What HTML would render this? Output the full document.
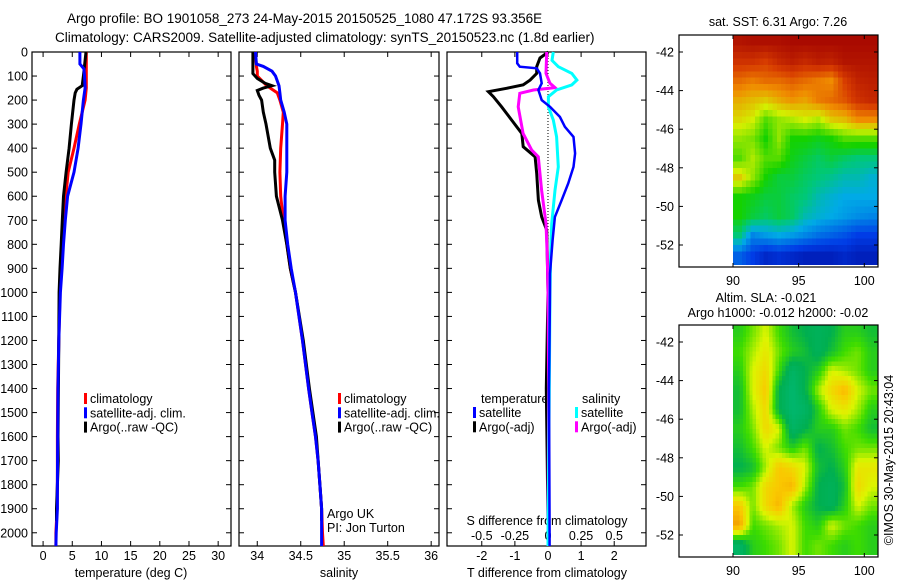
<!DOCTYPE html>
<html><head><meta charset="utf-8"><style>
html,body{margin:0;padding:0;background:#fff;}
svg{display:block;font-family:"Liberation Sans",sans-serif;}
text{fill:#000;}
</style></head><body>
<svg id="c" width="900" height="580" viewBox="0 0 900 580" xmlns="http://www.w3.org/2000/svg">
<text x="67" y="23" font-size="13.5">Argo profile: BO 1901058_273 24-May-2015 20150525_1080 47.172S 93.356E</text>
<text x="55" y="42" font-size="13.5">Climatology: CARS2009. Satellite-adjusted climatology: synTS_20150523.nc (1.8d earlier)</text>
<g id="layer"></g>
</svg>
<script>
// ---------- data ----------
const tDepth=[0,50,70,100,150,200,300,400,500,600,700,800,900,1000,1200,1400,1600,1800,1900,2000,2055];
const tClim=[7.4,7.4,7.4,7.4,7.4,7.2,6.2,5.3,4.3,3.9,3.65,3.4,3.1,2.9,2.7,2.5,2.45,2.45,2.4,2.2,2.2];
const tSat=[6.3,6.3,7.0,7.1,7.2,6.9,6.5,6.0,5.3,4.2,3.8,3.5,3.25,2.97,2.7,2.55,2.5,2.45,2.45,2.25,2.2];
const tArgoDepth=[0,100,140,155,170,200,300,400,500,600,700,800,900,1000,1300,1600,1700,1900,1950];
const tArgo=[7.35,6.9,6.7,5.8,5.5,5.3,4.85,4.45,3.95,3.5,3.3,3.1,2.9,2.75,2.65,2.55,2.6,2.3,2.3];
const sDepth=[0,50,60,80,100,140,170,200,250,300,400,500,600,700,800,900,1000,1200,1400,1500,1600,1700,1800,1900,2000,2055];
const sClim=[33.97,33.99,33.99,34.0,34.0,34.11,34.23,34.26,34.30,34.29,34.27,34.26,34.27,34.30,34.34,34.38,34.44,34.52,34.59,34.63,34.67,34.70,34.72,34.74,34.75,34.76];
const sSat=[33.98,33.99,34.07,34.17,34.21,34.25,34.26,34.27,34.31,34.34,34.34,34.34,34.32,34.32,34.35,34.39,34.44,34.52,34.59,34.63,34.67,34.70,34.72,34.74,34.74,34.74];
const sArgoDepth=[0,90,110,130,140,150,160,180,200,250,300,400,450,500,600,700,800,900,1000,1200,1400,1600,1800,1900,1950];
const sArgo=[33.95,33.95,34.0,34.09,34.17,34.07,34.0,34.02,34.05,34.07,34.10,34.15,34.2,34.2,34.22,34.29,34.34,34.38,34.44,34.53,34.6,34.68,34.72,34.74,34.74];
const dDepth=[0,47,61,68,89,130,158,200,228,270,311,353,422,478,547,617,686,783,922,1000,1400,2000,2055];
const dTSat=[-0.93,-0.93,-0.85,-0.34,-0.24,-0.19,-0.29,-0.19,0.06,0.36,0.51,0.77,0.82,0.77,0.61,0.41,0.21,0.14,0.06,0.06,0.03,0.05,0.05];
const dArgoDepth=[0,25,61,89,117,137,151,165,186,228,283,339,394,436,505,617,686,741,852,1000,1400,1950];
const dTArgo=[0.01,-0.24,-0.34,-0.34,-0.54,-0.75,-1.25,-1.8,-1.65,-1.4,-1.1,-0.79,-0.75,-0.39,-0.34,-0.29,-0.19,-0.04,-0.02,0.0,-0.05,0.0];
const dSDepth=[0,35,61,89,117,137,158,186,228,283,353,478,575,714,852,1000,1400,2000,2055];
const dSSat=[0.04,0.03,0.078,0.18,0.218,0.18,0.065,0.003,0.003,0.04,0.065,0.078,0.053,0.028,0.02,0.015,0.01,0.0,0.0];
const dSArgoDepth=[0,89,130,148,158,172,228,339,408,436,575,714,852,1000,1400,1950];
const dSArgo=[-0.01,-0.015,0.015,0.053,-0.11,-0.213,-0.225,-0.188,-0.123,-0.073,-0.048,-0.015,-0.005,0.0,0.005,0.0];
const yTicks=[0,100,200,300,400,500,600,700,800,900,1000,1100,1200,1300,1400,1500,1600,1700,1800,1900,2000];
const tTicks=[0,5,10,15,20,25,30];
const sTicks=[34,34.5,35,35.5,36];
const dTTicks=[-2,-1,0,1,2];
const dSTicks=[-0.5,-0.25,0,0.25,0.5];
const mapLatTicks=[-42,-44,-46,-48,-50,-52];
const mapLonTicks=[90,95,100];
const lonCells=[90,91,92,93,94,95,96,97,98,99,100];
const latCells=[-41,-42,-43,-44,-45,-46,-47,-48,-49,-50,-51,-52];
const sstGrid=[
[0.96,0.97,0.97,0.97,0.98,0.98,0.98,0.98,0.98,0.98,0.98],
[0.9,0.9,0.88,0.92,0.94,0.92,0.94,0.93,0.96,0.96,0.96],
[0.82,0.8,0.82,0.82,0.84,0.82,0.8,0.78,0.88,0.93,0.94],
[0.74,0.72,0.7,0.74,0.77,0.75,0.8,0.82,0.85,0.9,0.92],
[0.68,0.65,0.55,0.6,0.62,0.65,0.62,0.7,0.72,0.78,0.78],
[0.6,0.58,0.5,0.6,0.5,0.5,0.48,0.5,0.55,0.55,0.55],
[0.55,0.62,0.55,0.55,0.48,0.45,0.42,0.45,0.42,0.4,0.4],
[0.7,0.6,0.5,0.45,0.45,0.42,0.4,0.38,0.35,0.35,0.32],
[0.5,0.48,0.45,0.45,0.42,0.4,0.35,0.32,0.3,0.3,0.3],
[0.5,0.45,0.42,0.45,0.42,0.35,0.32,0.3,0.28,0.26,0.25],
[0.4,0.25,0.28,0.3,0.28,0.25,0.22,0.2,0.18,0.15,0.15],
[0.2,0.15,0.1,0.12,0.1,0.08,0.08,0.08,0.1,0.08,0.08]];
const slaGrid=[
[0.4,0.5,0.6,0.45,0.35,0.3,0.25,0.3,0.4,0.4,0.35],
[0.45,0.55,0.65,0.5,0.4,0.35,0.25,0.35,0.45,0.5,0.4],
[0.4,0.6,0.7,0.45,0.2,0.3,0.4,0.6,0.55,0.5,0.4],
[0.35,0.6,0.75,0.3,0.15,0.3,0.55,0.7,0.8,0.6,0.5],
[0.35,0.55,0.7,0.3,0.15,0.2,0.4,0.6,0.65,0.55,0.4],
[0.4,0.5,0.7,0.6,0.2,0.3,0.4,0.4,0.5,0.45,0.35],
[0.35,0.45,0.6,0.5,0.4,0.5,0.3,0.35,0.45,0.5,0.5],
[0.3,0.35,0.55,0.75,0.7,0.6,0.35,0.3,0.4,0.65,0.65],
[0.45,0.5,0.7,0.75,0.8,0.55,0.3,0.25,0.35,0.7,0.6],
[0.75,0.5,0.7,0.8,0.55,0.4,0.3,0.25,0.4,0.6,0.5],
[0.85,0.45,0.5,0.55,0.6,0.45,0.4,0.6,0.5,0.45,0.4],
[0.2,0.4,0.45,0.5,0.6,0.45,0.5,0.45,0.4,0.45,0.4]];

// ---------- helpers ----------
const NS="http://www.w3.org/2000/svg";
const L=document.getElementById('layer');
function el(tag,attrs,parent){const e=document.createElementNS(NS,tag);for(const k in attrs)e.setAttribute(k,attrs[k]);(parent||L).appendChild(e);return e;}
function txt(x,y,s,size,anchor,parent){const t=el('text',{x:x,y:y,'font-size':size,'text-anchor':anchor||'start'},parent);t.textContent=s;return t;}
const PT=52,PB=546;
const yD=d=>PT+(d/2055)*(PB-PT);
function lin(d0,d1,p0,p1){return v=>p0+(v-d0)/(d1-d0)*(p1-p0);}
const xT=lin(-1.9,32.2,32,231);
const xS=lin(33.79,36.09,239,439);
const xDf=lin(-3.05,2.96,447,646);
const xS4=v=>xDf(v*4);

function panel(x0,x1,name){
  const g=el('g',{});
  
  
  el('rect',{x:x0,y:PT,width:x1-x0,height:PB-PT,fill:'none',stroke:'#000','stroke-width':1.2},g);
  yTicks.forEach(d=>{el('line',{x1:x0,x2:x0+5,y1:yD(d),y2:yD(d),stroke:'#000'},g);el('line',{x1:x1-5,x2:x1,y1:yD(d),y2:yD(d),stroke:'#000'},g);});
  return g;
}
function series(depths,vals,xf,color,w,name){
  const pts=depths.map((d,i)=>xf(vals[i]).toFixed(1)+','+yD(d).toFixed(1)).join(' ');
  const p=el('polyline',{points:pts,fill:'none',stroke:color,'stroke-width':w,'stroke-linejoin':'miter'});
  
  
}
function xticks(g,vals,xf,labels,y){
  vals.forEach((v,i)=>{const x=xf(v);el('line',{x1:x,x2:x,y1:PT,y2:PT+5,stroke:'#000'},g);el('line',{x1:x,x2:x,y1:PB-5,y2:PB,stroke:'#000'},g);
    if(labels){const t=txt(x,y,labels[i],12.5,'middle',g);}});
}
function legend(x,y,items,g){
  items.forEach((it,i)=>{el('rect',{x:x,y:y+i*14.3-10,width:3,height:11,fill:it[0]},g);
    const t=txt(x+6,y+i*14.3,it[1],12.5,'start',g);});
}

// ---------- panel 1: temperature ----------
const g1=panel(32,231,'temperature-panel');
yTicks.forEach(d=>{const t=txt(28,yD(d)+4.5,String(d),12.5,'end',g1);});
xticks(g1,tTicks,xT,tTicks.map(String),560);
const a1=txt(131,577,'temperature (deg C)',12.5,'middle',g1);


series(tDepth,tClim,xT,'#ff0000',3,'temperature-climatology-line');
series(tArgoDepth,tArgo,xT,'#000000',3,'temperature-argo-line');
series(tDepth,tSat,xT,'#0000ff',3,'temperature-satellite-line');
legend(84,403,[['#f00','climatology'],['#00f','satellite-adj. clim.'],['#000','Argo(..raw -QC)']],g1);

// ---------- panel 2: salinity ----------
const g2=panel(239,439,'salinity-panel');
xticks(g2,sTicks,xS,sTicks.map(String),560);
const a2=txt(339,577,'salinity',12.5,'middle',g2);


series(sDepth,sClim,xS,'#ff0000',3,'salinity-climatology-line');
series(sArgoDepth,sArgo,xS,'#000000',3,'salinity-argo-line');
series(sDepth,sSat,xS,'#0000ff',3,'salinity-satellite-line');
legend(338,403,[['#f00','climatology'],['#00f','satellite-adj. clim.'],['#000','Argo(..raw -QC)']],g2);
const pi1=txt(327,518,'Argo UK',12.5,'start',g2);


const pi2=txt(327,532,'PI: Jon Turton',12.5,'start',g2);



// ---------- panel 3: differences ----------
const g3=panel(447,646,'difference-panel');
xticks(g3,dTTicks,xDf,dTTicks.map(String),560);
dSTicks.forEach(v=>{const t=txt(xS4(v),540,String(v),12.5,'middle',g3);});
const a3=txt(547,577,'T difference from climatology',12.5,'middle',g3);


const a4=txt(547,525,'S difference from climatology',12.5,'middle',g3);


el('line',{x1:xDf(0),x2:xDf(0),y1:PT,y2:PB,stroke:'#000','stroke-dasharray':'1,2'},g3);
series(dArgoDepth,dTArgo,xDf,'#000000',3,'t-diff-argo-line');
series(dSArgoDepth,dSArgo,xS4,'#ff00ff',3,'s-diff-argo-line');
series(dSDepth,dSSat,xS4,'#00ffff',3,'s-diff-satellite-line');
series(dDepth,dTSat,xDf,'#0000ff',2.5,'t-diff-satellite-line');
const lt=txt(481,403,'temperature',12.5,'start',g3);


const ls=txt(582,403,'salinity',12.5,'start',g3);


legend(473,417,[['#00f','satellite'],['#000','Argo(-adj)']],g3);
legend(575,417,[['#0ff','satellite'],['#f0f','Argo(-adj)']],g3);

// ---------- maps ----------
function cmap(stops,v){v=Math.max(0,Math.min(1,v));for(let i=1;i<stops.length;i++){if(v<=stops[i][0]){const a=stops[i-1],b=stops[i],f=(v-a[0])/(b[0]-a[0]);return 'rgb('+[1,2,3].map(k=>Math.round(a[k]+(b[k]-a[k])*f)).join(',')+')';}}const s=stops[stops.length-1];return 'rgb('+s[1]+','+s[2]+','+s[3]+')';}
const jet=[[0,0,0,140],[0.15,0,60,230],[0.3,0,170,230],[0.4,0,200,120],[0.5,20,210,0],[0.65,210,240,0],[0.78,240,140,0],[0.88,215,60,0],[1,160,0,0]];
const slaMap=[[0,0,190,140],[0.3,0,175,80],[0.45,60,220,0],[0.6,220,245,0],[0.75,250,200,0],[0.9,240,140,0],[1,220,90,0]];
function sampleGrid(grid,r,c){
  // r,c in fractional cell-centre coordinates
  r=Math.max(0,Math.min(grid.length-1,r));c=Math.max(0,Math.min(grid[0].length-1,c));
  const r0=Math.floor(r),c0=Math.floor(c),r1=Math.min(r0+1,grid.length-1),c1=Math.min(c0+1,grid[0].length-1);
  const fr=r-r0,fc=c-c0;
  return grid[r0][c0]*(1-fr)*(1-fc)+grid[r0][c1]*(1-fr)*fc+grid[r1][c0]*fr*(1-fc)+grid[r1][c1]*fr*fc;
}
function mapPanel(top,grid,stops,name,sub){
  const x0=679,x1=878,y0=top,y1=top+232;
  const xL=lin(90,100,733,864.3), yL=lin(-42,-52,top+17,top+210);
  const g=el('g',{});
  
  
  const cid='clip'+top;
  const cp=el('clipPath',{id:cid},g);el('rect',{x:733,y:y0,width:x1-733,height:y1-y0},cp);
  const cg=el('g',{'clip-path':'url(#'+cid+')','shape-rendering':'crispEdges'},g);
  const step=1/sub;
  latCells.forEach((la,r)=>lonCells.forEach((lo,c)=>{
    for(let i=0;i<sub;i++)for(let j=0;j<sub;j++){
      const lon=lo+j*step, lat=la-i*step;
      const v=sampleGrid(grid,r+(i+0.5)*step-0.5,c+(j+0.5)*step-0.5);
      const xa=xL(lon),xb=xL(lon+step),ya=yL(lat),yb=yL(lat-step);
      el('rect',{x:xa,y:ya,width:xb-xa+0.6,height:yb-ya+0.6,fill:cmap(stops,v)},cg);
    }}));
  el('rect',{x:x0,y:y0,width:x1-x0,height:y1-y0,fill:'none',stroke:'#000','stroke-width':1.2},g);
  mapLatTicks.forEach(v=>{const y=yL(v);el('line',{x1:x0,x2:x0+4,y1:y,y2:y,stroke:'#000'},g);el('line',{x1:x1-4,x2:x1,y1:y,y2:y,stroke:'#000'},g);
    const t=txt(674,y+4.5,String(v),12.5,'end',g);});
  mapLonTicks.forEach(v=>{const x=xL(v);el('line',{x1:x,x2:x,y1:y0,y2:y0+4,stroke:'#000'},g);el('line',{x1:x,x2:x,y1:y1-4,y2:y1,stroke:'#000'},g);
    const t=txt(x,y1+18,String(v),12.5,'middle',g);});
  return g;
}
const m1=mapPanel(35,sstGrid,jet,'sst-map',3);
const mt1=txt(778,26,'sat. SST: 6.31  Argo: 7.26',12.5,'middle',m1);


const m2=mapPanel(325,slaGrid,slaMap,'sla-map',4);
const mt2=txt(766,302,'Altim. SLA: -0.021',12.5,'middle',m2);


const mt3=txt(778,317,'Argo h1000: -0.012 h2000: -0.02',12.5,'middle',m2);


const cr=txt(0,0,'©IMOS 30-May-2015 20:43:04',12.5,'middle',m2);
cr.setAttribute('transform','translate(893,460) rotate(-90)');


</script>
</body></html>
